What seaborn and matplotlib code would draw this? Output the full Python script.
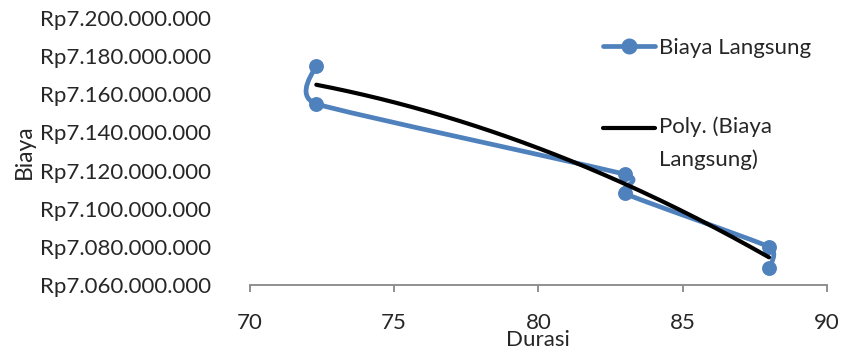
import numpy as np
import pandas as pd
import matplotlib
matplotlib.use("Agg")
import matplotlib.pyplot as plt
from matplotlib.path import Path
from matplotlib.patches import PathPatch
from matplotlib.lines import Line2D
from matplotlib.legend_handler import HandlerLine2D
from matplotlib.transforms import Affine2D
from matplotlib.ticker import FuncFormatter
import seaborn as sns

# Project duration (days) and direct cost (Rp)
durasi = [72.3, 72.3, 83.0, 83.0, 88.0, 88.0]
biaya = [7175e6, 7155e6, 7118e6, 7108e6, 7080e6, 7069e6]

x_ticks = [70, 75, 80, 85, 90]
y_ticks = [7060e6, 7080e6, 7100e6, 7120e6, 7140e6, 7160e6, 7180e6, 7200e6]

BLUE = "#4F81BD"
df = pd.DataFrame({"Durasi": durasi, "Biaya": biaya})

sns.set_theme(style="white")
plt.rcParams["font.family"] = ["Lato", "DejaVu Sans"]
FS = 16

fig = plt.figure(figsize=(8.43, 3.49), dpi=100)
ax = fig.add_axes([250 / 843, 1 - 285 / 349, (826.7 - 250) / 843, (285 - 18) / 349])


def smooth_path(xs, ys, tension=0.45):
    """Cubic Bezier path through the points (Catmull-Rom style control points)."""
    pts = np.column_stack([xs, ys]).astype(float)
    n = len(pts)
    verts = [pts[0]]
    codes = [Path.MOVETO]
    for i in range(n - 1):
        p0 = pts[i - 1] if i > 0 else pts[i]
        p1 = pts[i]
        p2 = pts[i + 1]
        p3 = pts[i + 2] if i + 2 < n else pts[i + 1]
        c1 = p1 + tension * (p2 - p0) / 6.0
        c2 = p2 - tension * (p3 - p1) / 6.0
        verts += [c1, c2, p2]
        codes += [Path.CURVE4] * 3
    return Path(np.array(verts), codes)


# smoothed series line
ax.add_patch(PathPatch(smooth_path(df["Durasi"], df["Biaya"]), facecolor="none",
                       edgecolor=BLUE, lw=3.4, capstyle="round", joinstyle="round", zorder=2))
# markers
sns.scatterplot(data=df, x="Durasi", y="Biaya", ax=ax, color=BLUE, s=115,
                edgecolor=BLUE, linewidth=0, zorder=3, legend=False)

# second-order polynomial trendline
coef = np.polyfit(df["Durasi"], df["Biaya"], 2)
xt = np.linspace(min(durasi), max(durasi), 200)
sns.lineplot(x=xt, y=np.polyval(coef, xt), ax=ax, color="black", lw=3.0, zorder=4)

ax.set_xlim(70, 90)
ax.set_ylim(7060e6, 7200e6)
ax.set_xticks(x_ticks)
ax.set_yticks(y_ticks)


def rupiah(v, pos):
    return "Rp" + f"{int(round(v)):,}".replace(",", ".")


ax.yaxis.set_major_formatter(FuncFormatter(rupiah))
ax.tick_params(axis="x", direction="out", length=5, width=1.3, color="#888888",
               labelsize=FS, pad=15, bottom=True)
ax.tick_params(axis="y", length=0, labelsize=FS, pad=28)
for s in ["top", "right", "left"]:
    ax.spines[s].set_visible(False)
ax.spines["bottom"].set_color("#888888")
ax.spines["bottom"].set_linewidth(1.3)
ax.grid(False)

ax.set_xlabel("Durasi", fontsize=FS, labelpad=-2)
ax.set_ylabel("Biaya", fontsize=FS + 0.5, labelpad=4)


class HandlerFirstLine(HandlerLine2D):
    """Line handle aligned with the first line of a two-line label."""

    def __init__(self, shift, **kw):
        super().__init__(**kw)
        self.shift = shift

    def create_artists(self, legend, orig_handle, xdescent, ydescent, width, height,
                       fontsize, trans):
        trans = trans + Affine2D().translate(0, self.shift)
        return super().create_artists(legend, orig_handle, xdescent, ydescent, width,
                                      height, fontsize, trans)


h_series = Line2D([], [], color=BLUE, lw=3.4, marker="o", markersize=10.5)
h_poly = Line2D([], [], color="black", lw=3.0)
leg = ax.legend([h_series, h_poly], ["Biaya Langsung", "Poly. (Biaya\nLangsung)"],
                loc="upper left", bbox_to_anchor=(603 / 843, 1 - 38 / 349),
                bbox_transform=fig.transFigure, frameon=False, fontsize=FS,
                handlelength=2.35, handletextpad=0.15, labelspacing=2.65,
                borderpad=0, borderaxespad=0,
                handler_map={h_poly: HandlerFirstLine(shift=16)})
for t in leg.get_texts():
    t.set_linespacing(1.7)

fig.savefig("out.png", dpi=100)
